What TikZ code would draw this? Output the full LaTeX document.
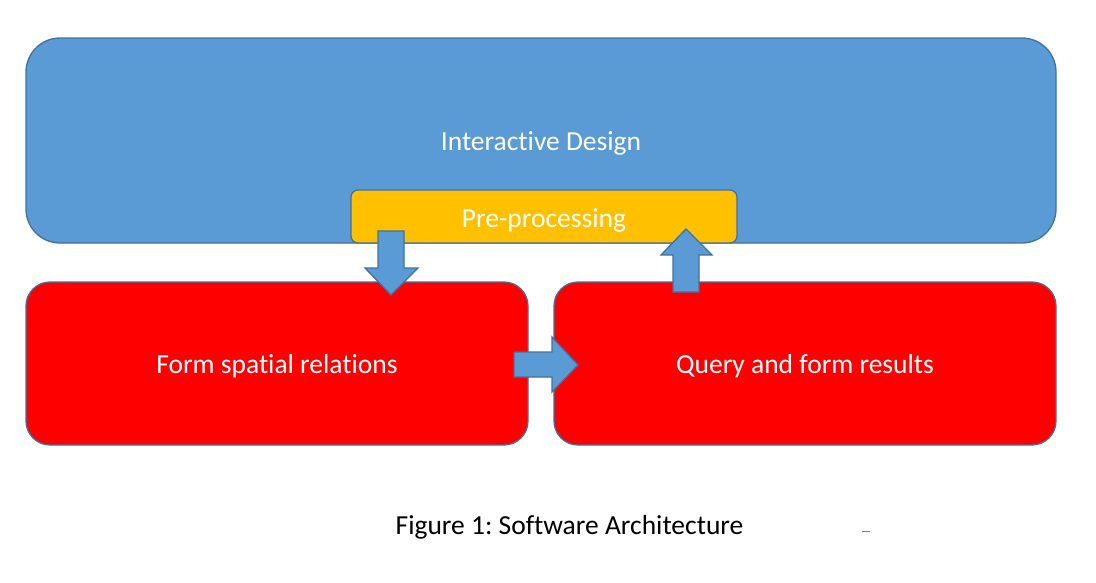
\documentclass[tikz,border=0pt]{standalone}
\usepackage{fontspec}
\setmainfont{Carlito}[Ligatures=NoCommon]
\frenchspacing
\definecolor{bluefill}{HTML}{5B9BD5}
\definecolor{blueedge}{HTML}{41719C}
\definecolor{gold}{HTML}{FFC000}
\definecolor{redfill}{HTML}{FF0000}
\begin{document}
\begin{tikzpicture}[x=1pt,y=-1pt,
  box/.style={draw=blueedge,line width=1.3pt,inner sep=0pt},
  lbl/.style={text=white,anchor=base,inner sep=0pt,font=\fontsize{27.5}{32}\selectfont},
  blockarrow/.style={fill=bluefill,draw=blueedge,line width=1.3pt,line join=miter}]
\useasboundingbox (0,0) rectangle (1096,582);
% main blue box
\node[box,fill=bluefill,rounded corners=34pt,minimum width=1030pt,minimum height=205pt] (design) at (541,140.5) {};
\node[lbl] (designlabel) at (541,150) {Interactive Design};
% red boxes
\node[box,fill=redfill,rounded corners=24pt,minimum width=502pt,minimum height=163pt] (form) at (277,363.5) {};
\node[lbl] (formlabel) at (277,373) {Form spatial relations};
\node[box,fill=redfill,rounded corners=24pt,minimum width=502pt,minimum height=163pt] (query) at (805,363.5) {};
\node[lbl] (querylabel) at (805,373) {Query and form results};
% pre-processing
\node[box,fill=gold,rounded corners=7pt,minimum width=386pt,minimum height=53pt] (pre) at (544,216.5) {};
\node[lbl] (prelabel) at (544,227) {Pre-processing};
% down arrow
\draw[blockarrow] (378,231) -- (404,231) -- (404,268) -- (418,268) -- (391,295) -- (365,268) -- (378,268) -- cycle;
% up arrow
\draw[blockarrow] (673,292) -- (699,292) -- (699,255) -- (712,255) -- (686,229) -- (661,255) -- (673,255) -- cycle;
% right arrow
\draw[blockarrow] (514,352) -- (552,352) -- (552,337) -- (578,365) -- (552,392) -- (552,377) -- (514,377) -- cycle;
% caption
\node[anchor=base,inner sep=0pt,font=\fontsize{27.5}{32}\selectfont] (caption) at (569.5,534) {Figure 1: Software Architecture};
\coordinate (dashL) at (862,531);
\coordinate (dashR) at (870,531);
\draw[gray,line width=1pt] (dashL) -- (dashR);
\end{tikzpicture}
\end{document}
